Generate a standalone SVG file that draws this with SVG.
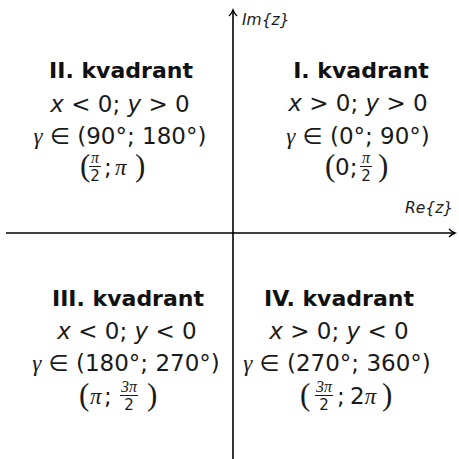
<svg xmlns="http://www.w3.org/2000/svg" width="459" height="459" viewBox="0 0 459 459">
<style>
.t{font-family:"DejaVu Sans","Liberation Sans",sans-serif;fill:#1a1a1a;font-size:23px}
.b{font-family:"DejaVu Sans","Liberation Sans",sans-serif;font-weight:bold;fill:#111;font-size:22px;text-anchor:middle}
.m{text-anchor:middle}
.i{font-style:italic}
.g{font-family:"Liberation Serif",serif;font-style:italic}
.p{font-family:"Liberation Serif",serif;fill:#1a1a1a;font-size:31px}
.f{font-family:"Liberation Serif",serif;font-style:italic;fill:#1a1a1a;font-size:16px;text-anchor:middle}
.d{font-family:"DejaVu Sans",sans-serif;fill:#1a1a1a;font-size:15px;text-anchor:middle}
.ax{font-family:"DejaVu Sans",sans-serif;font-style:italic;fill:#1a1a1a;font-size:15.5px}
.bar{stroke:#1a1a1a;stroke-width:1}
.axis{stroke:#000;stroke-width:1.6;fill:none}
</style>
<defs>
<marker id="ah" markerWidth="10" markerHeight="10" refX="8" refY="5" orient="auto" markerUnits="userSpaceOnUse">
<path d="M2,1 Q5,4 8,5 Q5,6 2,9" fill="none" stroke="#000" stroke-width="1.4"/>
</marker>
</defs>
<g id="connectors">
<line class="axis" x1="6" y1="233" x2="455" y2="233" marker-end="url(#ah)"/>
<line class="axis" x1="233" y1="459" x2="233" y2="10" marker-end="url(#ah)"/>
</g>
<g id="axis-labels">
<text class="ax" x="242" y="25">Im{z}</text>
<text class="ax" x="405" y="213">Re{z}</text>
</g>
<g id="q1">
<text class="b" x="361" y="78">I. kvadrant</text>
<text class="t m" x="358" y="111"><tspan class="i">x</tspan> &gt; 0; <tspan class="i">y</tspan> &gt; 0</text>
<text class="t m" x="358" y="144"><tspan class="g">γ</tspan> ∈ (0°; 90°)</text>
<text class="p" x="325" y="176">(</text>
<text class="t" x="335" y="175">0;</text>
<text class="f" x="366" y="163">π</text>
<line class="bar" x1="360" y1="166.5" x2="372" y2="166.5"/>
<text class="d" x="366" y="181">2</text>
<text class="p" x="378" y="176">)</text>
</g>
<g id="q2">
<text class="b" x="121" y="78">II. kvadrant</text>
<text class="t m" x="120" y="112"><tspan class="i">x</tspan> &lt; 0; <tspan class="i">y</tspan> &gt; 0</text>
<text class="t m" x="120" y="144"><tspan class="g">γ</tspan> ∈ (90°; 180°)</text>
<text class="p" x="80" y="176">(</text>
<text class="f" x="95" y="163">π</text>
<line class="bar" x1="89" y1="166.5" x2="101" y2="166.5"/>
<text class="d" x="95" y="181">2</text>
<text class="t" x="104" y="175">;</text>
<text class="t g" x="115" y="175">π</text>
<text class="p" x="135" y="176">)</text>
</g>
<g id="q3">
<text class="b" x="128" y="306">III. kvadrant</text>
<text class="t m" x="127" y="339"><tspan class="i">x</tspan> &lt; 0; <tspan class="i">y</tspan> &lt; 0</text>
<text class="t m" x="126" y="371"><tspan class="g">γ</tspan> ∈ (180°; 270°)</text>
<text class="p" x="79" y="405">(</text>
<text class="t g" x="90" y="404">π</text>
<text class="t" x="104" y="404">;</text>
<text class="f" x="129" y="392">3π</text>
<line class="bar" x1="120" y1="395.5" x2="138" y2="395.5"/>
<text class="d" x="129" y="410">2</text>
<text class="p" x="147" y="405">)</text>
</g>
<g id="q4">
<text class="b" x="339" y="306">IV. kvadrant</text>
<text class="t m" x="339" y="339"><tspan class="i">x</tspan> &gt; 0; <tspan class="i">y</tspan> &lt; 0</text>
<text class="t m" x="337" y="371"><tspan class="g">γ</tspan> ∈ (270°; 360°)</text>
<text class="p" x="300" y="405">(</text>
<text class="f" x="324" y="392">3π</text>
<line class="bar" x1="315" y1="395.5" x2="333" y2="395.5"/>
<text class="d" x="324" y="410">2</text>
<text class="t" x="337" y="404">;</text>
<text class="t" x="350" y="404">2<tspan class="g">π</tspan></text>
<text class="p" x="382" y="405">)</text>
</g>
</svg>
